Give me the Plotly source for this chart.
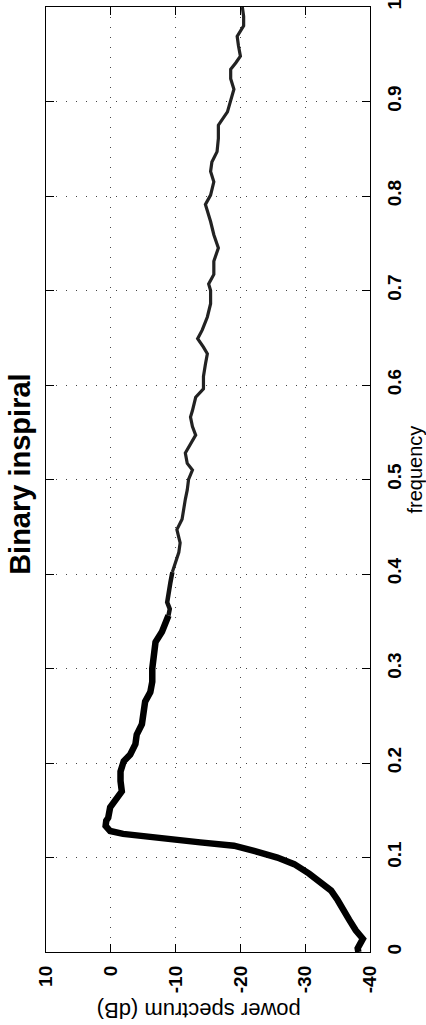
import plotly.graph_objects as go

# ---- data (frequency, power in dB) ----
frequency = [
    0.000, 0.004, 0.014, 0.023, 0.034, 0.044, 0.055, 0.065, 0.074, 0.083,
    0.093, 0.100, 0.107, 0.1125, 0.116, 0.121, 0.125, 0.128, 0.1335, 0.139,
    0.142, 0.153, 0.160, 0.170, 0.181, 0.191, 0.202, 0.209, 0.220, 0.230,
    0.241, 0.254, 0.265, 0.275, 0.286, 0.300, 0.314, 0.328, 0.339, 0.346,
    0.356, 0.363, 0.370, 0.381, 0.391, 0.402, 0.412, 0.423, 0.433, 0.447,
    0.458, 0.468, 0.479, 0.489, 0.500, 0.510, 0.517, 0.528, 0.538, 0.547,
    0.556, 0.566, 0.573, 0.587, 0.596, 0.609, 0.622, 0.633, 0.640, 0.649,
    0.658, 0.672, 0.686, 0.700, 0.707, 0.717, 0.731, 0.745, 0.759, 0.773,
    0.791, 0.801, 0.815, 0.826, 0.836, 0.847, 0.861, 0.875, 0.889, 0.901,
    0.913, 0.924, 0.934, 0.941, 0.948, 0.959, 0.969, 0.980, 0.990, 1.000,
]
power_db = [
    -38.2, -38.1, -38.9, -37.8, -36.8, -36.0, -35.0, -34.0, -32.4, -30.6,
    -28.3, -25.7, -22.1, -19.0, -13.8, -6.1, -1.9, 0.1, 0.8, 0.7,
    0.4, 0.1, -0.7, -1.7, -1.5, -1.5, -2.0, -3.0, -3.8, -4.0,
    -4.8, -5.0, -5.3, -6.1, -6.4, -6.4, -6.6, -6.9, -7.9, -8.4,
    -8.9, -9.1, -8.7, -8.9, -9.2, -9.5, -10.0, -10.5, -10.7, -10.2,
    -11.0, -11.2, -11.5, -11.8, -12.0, -12.6, -11.8, -11.5, -12.3, -13.1,
    -12.6, -12.3, -12.6, -13.1, -14.3, -14.3, -14.6, -14.9, -14.3, -13.4,
    -14.1, -14.9, -15.4, -15.4, -15.1, -15.9, -15.9, -16.6, -15.9, -15.4,
    -14.6, -15.4, -15.9, -15.4, -15.6, -16.4, -16.6, -16.6, -18.0, -18.5,
    -19.0, -18.5, -18.5, -19.3, -20.0, -19.7, -19.5, -20.5, -20.5, -20.3,
]
power_ticks = [10, 0, -10, -20, -30, -40]
power_tick_labels = ["10", "0", "-10", "-20", "-30", "-40"]
freq_ticks = [0, 0.1, 0.2, 0.3, 0.4, 0.5, 0.6, 0.7, 0.8, 0.9, 1]
freq_tick_labels = ["0", "0.1", "0.2", "0.3", "0.4", "0.5", "0.6", "0.7", "0.8", "0.9", "1"]

title_text = "Binary inspiral"
xlabel_text = "frequency"
ylabel_text = "power spectrum (dB)"

# line drawn in three pieces (index ranges share their end points)
bands = [(0, 41, 6.5, "black"), (40, 46, 4.5, "#111111"), (45, len(frequency), 3.2, "#222222")]

FONT = "Liberation Sans, Arial, Helvetica, sans-serif"

fig = go.Figure()
for i0, i1, w, c in bands:
    fig.add_trace(go.Scatter(x=power_db[i0:i1], y=frequency[i0:i1], mode="lines",
                             line=dict(color=c, width=w), showlegend=False))

axis_common = dict(
    ticks="inside", ticklen=8, tickcolor="black", tickwidth=1.2,
    showline=True, linecolor="black", linewidth=1.3, mirror="ticks",
    showgrid=True, gridcolor="#444444", gridwidth=1, griddash="1px,9px",
    zeroline=False, tickfont=dict(size=19, family=FONT, weight="bold"),
    ticklabeloverflow="allow", automargin=False,
)

fig.update_layout(
    width=426, height=1025,
    margin=dict(l=46, r=56, t=7, b=73, autoexpand=False),
    paper_bgcolor="white", plot_bgcolor="white",
    font=dict(family=FONT, color="black"),
    xaxis=dict(range=[10, -40], tickvals=power_ticks, ticktext=power_tick_labels,
               tickangle=-90, ticklabelstandoff=5, **axis_common),
    yaxis=dict(range=[0, 1], tickvals=freq_ticks, ticktext=freq_tick_labels,
               side="right", tickangle=-90, ticklabelstandoff=7, **axis_common),
    annotations=[
        dict(text="<b>" + title_text + "</b>", xref="paper", yref="paper",
             x=-0.080, y=0.505, xanchor="center", yanchor="middle",
             textangle=-90, showarrow=False, font=dict(size=29, family=FONT)),
        dict(text=xlabel_text, xref="paper", yref="paper",
             x=1.14, y=0.511, xanchor="center", yanchor="middle",
             textangle=-90, showarrow=False, font=dict(size=20, family=FONT)),
        dict(text=ylabel_text, xref="paper", yref="paper",
             x=0.472, y=-0.062, xanchor="center", yanchor="middle",
             textangle=180, showarrow=False, font=dict(size=22, family=FONT)),
    ],
)

fig.write_html("out.html")
